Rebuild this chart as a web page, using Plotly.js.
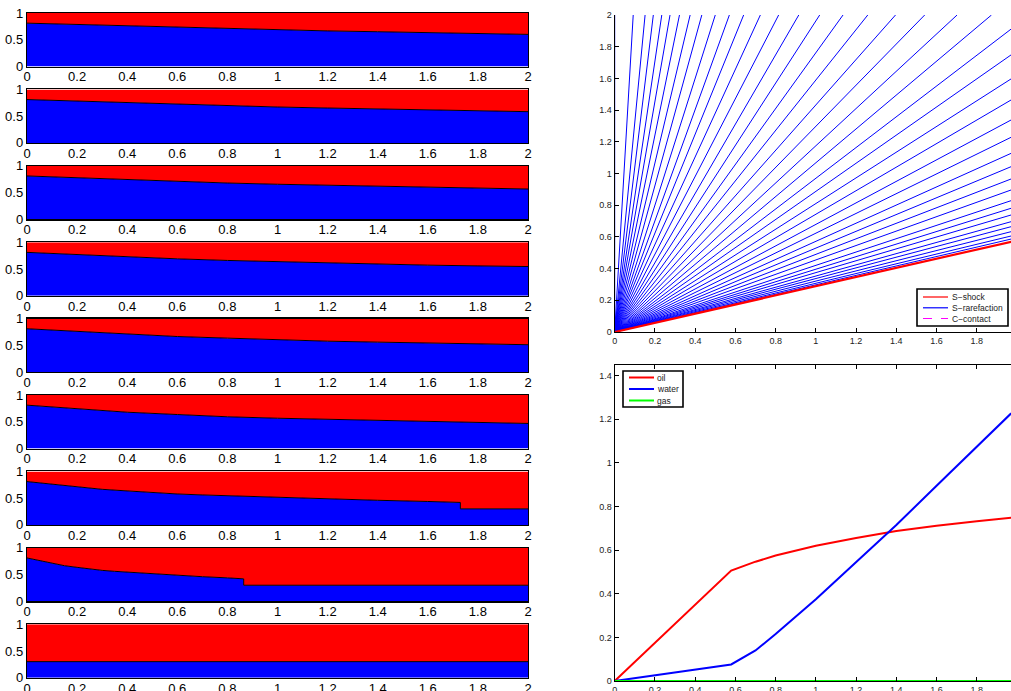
<!DOCTYPE html>
<html>
<head>
<meta charset="utf-8">
<script src="https://cdn.plot.ly/plotly-3.0.1.min.js"></script>
<style>
  html, body { margin: 0; padding: 0; background: #ffffff; overflow: hidden; }
  #chart { width: 1011px; height: 691px; }
</style>
</head>
<body>
<div id="chart"></div>
<script>
// ---------- saturation profiles (water = blue, oil = red), latest time on top ----------
const xSmooth = [0, 0.1, 0.2, 0.3, 0.4, 0.6, 0.8, 1.0, 1.2, 1.4, 1.6, 1.8, 2.0];
const swT200 = [0.81, 0.798, 0.785, 0.770, 0.755, 0.730, 0.705, 0.685, 0.665, 0.650, 0.635, 0.618, 0.600];
const swT175 = [0.81, 0.796, 0.781, 0.764, 0.748, 0.719, 0.694, 0.671, 0.652, 0.635, 0.615, 0.597, 0.584];
const swT150 = [0.81, 0.793, 0.775, 0.755, 0.738, 0.705, 0.678, 0.655, 0.635, 0.612, 0.593, 0.578, 0.566];
const swT125 = [0.81, 0.790, 0.767, 0.745, 0.725, 0.689, 0.659, 0.635, 0.607, 0.587, 0.571, 0.557, 0.545];
const swT100 = [0.81, 0.785, 0.755, 0.730, 0.705, 0.665, 0.635, 0.600, 0.578, 0.560, 0.545, 0.528, 0.512];
const swT075 = [0.81, 0.775, 0.738, 0.705, 0.678, 0.635, 0.593, 0.566, 0.545, 0.523, 0.503, 0.485, 0.468];

const xT050 = [0, 0.05, 0.1, 0.2, 0.3, 0.4, 0.5, 0.6, 0.7, 0.8, 1.0, 1.2, 1.4, 1.6, 1.73, 1.73, 2.0];
const swT050 = [0.81, 0.785, 0.755, 0.705, 0.665, 0.635, 0.600, 0.578, 0.560, 0.545, 0.512, 0.485, 0.460, 0.438, 0.420, 0.300, 0.300];

const xT025 = [0, 0.025, 0.05, 0.1, 0.15, 0.2, 0.25, 0.3, 0.35, 0.4, 0.5, 0.6, 0.7, 0.8, 0.865, 0.865, 2.0];
const swT025 = [0.81, 0.785, 0.755, 0.705, 0.665, 0.635, 0.600, 0.578, 0.560, 0.545, 0.512, 0.485, 0.460, 0.438, 0.420, 0.300, 0.300];

const xT000 = [0, 2.0];
const swT000 = [0.30, 0.30];

const profileX = [xSmooth, xSmooth, xSmooth, xSmooth, xSmooth, xSmooth, xT050, xT025, xT000];
const profileSw = [swT200, swT175, swT150, swT125, swT100, swT075, swT050, swT025, swT000];

// ---------- wave fan in the (x, t) plane ----------
const rarefactionSpeeds = [0, 0.046, 0.0755, 0.096, 0.117, 0.1375, 0.161, 0.1875, 0.2165, 0.25,
  0.285, 0.3205, 0.362, 0.4075, 0.4575, 0.5095, 0.5675, 0.629, 0.698, 0.7705, 0.851, 0.9365,
  1.031, 1.127, 1.234, 1.346, 1.473, 1.604, 1.748, 1.889, 2.041, 2.199, 2.378, 2.524, 2.669,
  2.831, 2.965, 3.113, 3.253, 3.36];
const shockSpeed = 3.46;
const tFinal = 2;
const waveNames = ['S\u2212shock', 'S\u2212rarefaction', 'C\u2212contact'];
const waveColors = ['#ff0000', '#0000ff', '#ff00ff'];
const waveDash = ['solid', 'solid', 'dash'];

// ---------- phase curves ----------
const oilX = [0, 0.579, 0.7, 0.8, 1.0, 1.2, 1.4, 1.6, 1.8, 1.971];
const oilY = [0, 0.506, 0.547, 0.575, 0.620, 0.656, 0.688, 0.712, 0.732, 0.749];
const waterX = [0, 0.579, 0.7, 0.8, 1.0, 1.2, 1.4, 1.6, 1.8, 1.971];
const waterY = [0, 0.076, 0.140, 0.215, 0.375, 0.543, 0.715, 0.895, 1.075, 1.227];
const gasX = [0, 1.971];
const gasY = [0, 0];
const phaseNames = ['oil', 'water', 'gas'];
const phaseColors = ['#ff0000', '#0000ff', '#00ff00'];

const W = 1011, H = 691;
const FONT = '"Liberation Sans", Arial, Helvetica, sans-serif';
const px = v => v / W;          // pixel column -> paper x
const py = v => 1 - v / H;      // pixel row    -> paper y

const traces = [];
const shapes = [];
const annotations = [];
const layout = {
  width: W, height: H,
  margin: { l: 0, r: 0, t: 0, b: 0, pad: 0 },
  paper_bgcolor: '#ffffff',
  plot_bgcolor: '#ffffff',
  showlegend: false,
  font: { family: FONT, color: '#000000' }
};

// left column: 9 stacked panels
const leftX0 = 27, leftX1 = 528, panelTop0 = 13, panelStep = 76.4, panelH = 53.5;
for (let k = 0; k < 9; k++) {
  const n = k + 1;
  const xa = 'x' + (n === 1 ? '' : n), ya = 'y' + (n === 1 ? '' : n);
  const top = panelTop0 + panelStep * k, bot = top + panelH;
  const xs = profileX[k], sw = profileSw[k];
  traces.push({
    type: 'scatter', mode: 'lines', x: xs, y: sw, xaxis: xa, yaxis: ya,
    fill: 'tozeroy', fillcolor: '#0000ff', line: { color: '#000000', width: 1 },
    hoverinfo: 'skip'
  });
  traces.push({
    type: 'scatter', mode: 'lines', x: xs, y: sw.map(s => s + (1 - s)), xaxis: xa, yaxis: ya,
    fill: 'tonexty', fillcolor: '#ff0000', line: { color: '#000000', width: 0 },
    hoverinfo: 'skip'
  });
  const xname = 'xaxis' + (n === 1 ? '' : n), yname = 'yaxis' + (n === 1 ? '' : n);
  layout[xname] = {
    domain: [px(leftX0), px(leftX1)], anchor: ya, range: [0, 2],
    dtick: 0.2, tick0: 0, ticks: '', showgrid: false, zeroline: false,
    showline: true, mirror: true, linecolor: '#000000', linewidth: 1.2,
    ticklabelstandoff: -2,
    tickfont: { family: FONT, size: 13, color: '#000000' }
  };
  layout[yname] = {
    domain: [py(bot), py(top)], anchor: xa, range: [0, 1],
    dtick: 0.5, tick0: 0, ticks: '', showgrid: false, zeroline: false,
    showline: true, mirror: true, linecolor: '#000000', linewidth: 1.2,
    tickfont: { family: FONT, size: 13, color: '#000000' }
  };
}

// right top: characteristic fan
const fanX = [], fanY = [];
rarefactionSpeeds.forEach(v => { fanX.push(0, v * tFinal, null); fanY.push(0, tFinal, null); });
traces.push({
  type: 'scatter', mode: 'lines', x: fanX, y: fanY, xaxis: 'x10', yaxis: 'y10',
  line: { color: waveColors[1], width: 1 }, name: waveNames[1], hoverinfo: 'skip'
});
traces.push({
  type: 'scatter', mode: 'lines', x: [0, shockSpeed * tFinal], y: [0, tFinal], xaxis: 'x10', yaxis: 'y10',
  line: { color: waveColors[0], width: 2.2 }, name: waveNames[0], hoverinfo: 'skip'
});

const rightX0 = 614.7;
const smallTick = { family: FONT, size: 9, color: '#222222' };
layout.xaxis10 = {
  domain: [px(rightX0), 1], anchor: 'y10', range: [0, 1.97],
  dtick: 0.2, tick0: 0, ticks: 'inside', ticklen: 4, tickcolor: '#000000',
  showgrid: false, zeroline: false, showline: true, linecolor: '#000000', linewidth: 1.2,
  tickfont: smallTick
};
layout.yaxis10 = {
  domain: [py(332), py(15)], anchor: 'x10', range: [0, 2],
  dtick: 0.2, tick0: 0, ticks: 'inside', ticklen: 4, tickcolor: '#000000',
  showgrid: false, zeroline: false, showline: true, linecolor: '#000000', linewidth: 1.2,
  tickfont: smallTick
};

// right bottom: phase curves
[[oilX, oilY], [waterX, waterY], [gasX, gasY]].forEach((d, i) => {
  traces.push({
    type: 'scatter', mode: 'lines', x: d[0], y: d[1], xaxis: 'x11', yaxis: 'y11',
    line: { color: phaseColors[i], width: 2 }, name: phaseNames[i], hoverinfo: 'skip',
    cliponaxis: false
  });
});
layout.xaxis11 = {
  domain: [px(rightX0), 1], anchor: 'y11', range: [0, 1.97],
  dtick: 0.2, tick0: 0, ticks: 'inside', ticklen: 4, tickcolor: '#000000',
  showgrid: false, zeroline: false, showline: true, mirror: 'ticks', linecolor: '#000000', linewidth: 1.2,
  tickfont: smallTick
};
layout.yaxis11 = {
  domain: [py(681), py(364.7)], anchor: 'x11', range: [0, 1.45],
  dtick: 0.2, tick0: 0, ticks: 'inside', ticklen: 4, tickcolor: '#000000',
  showgrid: false, zeroline: false, showline: true, linecolor: '#000000', linewidth: 1.2,
  tickfont: smallTick
};

// compact boxed legends drawn in paper space
function drawLegend(box, lineX0, lineX1, textX, rowsY, names, colors, dashes, width) {
  shapes.push({
    type: 'rect', xref: 'paper', yref: 'paper',
    x0: px(box[0]), x1: px(box[1]), y0: py(box[3]), y1: py(box[2]),
    line: { color: '#000000', width: 1.6 }, fillcolor: '#ffffff', layer: 'above'
  });
  names.forEach((name, i) => {
    shapes.push({
      type: 'line', xref: 'paper', yref: 'paper',
      x0: px(lineX0), x1: px(lineX1), y0: py(rowsY[i]), y1: py(rowsY[i]),
      line: { color: colors[i], width: width, dash: dashes[i] }, layer: 'above'
    });
    annotations.push({
      xref: 'paper', yref: 'paper', x: px(textX), y: py(rowsY[i]),
      xanchor: 'left', yanchor: 'middle', showarrow: false, text: name,
      font: { family: FONT, size: 8.5, color: '#222222' }
    });
  });
}
drawLegend([917, 1008, 289, 326], 923, 948, 950, [297, 307.8, 318.5],
  waveNames, waveColors, waveDash, 1.2);
drawLegend([623, 683, 371, 407], 629, 654, 655, [377.5, 389, 400.5],
  phaseNames, phaseColors, ['solid', 'solid', 'solid'], 2);

layout.shapes = shapes;
layout.annotations = annotations;

Plotly.newPlot('chart', traces, layout, { displayModeBar: false, staticPlot: true });
</script>
</body>
</html>
